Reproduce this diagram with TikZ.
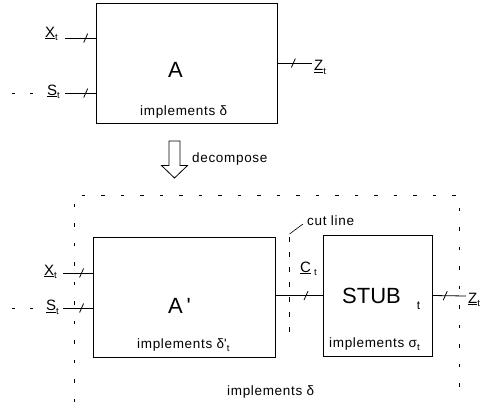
\documentclass[tikz,border=0pt]{standalone}
\usepackage{fontspec}
\setmainfont{Liberation Sans}
\newfontfamily\notefont{Liberation Sans}[LetterSpace=5]
\usetikzlibrary{calc}
\newcommand{\sigsub}[1]{\raisebox{-3.5pt}{\fontsize{9.5}{10}\selectfont #1}}
\newcommand{\sigvar}[2]{\underline{#1}\sigsub{#2}}
\tikzset{
    block/.style={rectangle,draw=black,line width=1pt,inner sep=0pt},
    wire/.style={line width=0.8pt},
    sig/.style={inner sep=0pt,font=\fontsize{15}{17}\selectfont},
    note/.style={inner sep=0pt,font=\notefont\fontsize{13.5}{15}\selectfont},
    big/.style={inner sep=0pt,font=\fontsize{22}{24}\selectfont},
    boundary/.style={line width=0.6pt,dash pattern=on 3.5pt off 16pt},
    cutline/.style={line width=0.6pt,dash pattern=on 5pt off 10pt},
    farin/.style={line width=0.8pt,dash pattern=on 3pt off 15pt},
    slash/.pic={\draw[line width=0.8pt] (-2pt,-4.5pt) -- (2pt,4.5pt);}
}
\begin{document}
\begin{tikzpicture}[x=1pt,y=-1pt]
    \useasboundingbox (0,0) rectangle (489,402);

    % upper half: the whole block A
    \node[block,minimum width=181pt,minimum height=120pt] (A) at (186.5,63) {};
    \node[big,anchor=base west]  (Aname) at (168,77)  {A};
    \node[note,anchor=base west] (Aimpl) at (140,115) {implements δ};
    \node[sig,anchor=base east]  (xt1)   at (58,37)   {\sigvar{X}{t}};
    \node[sig,anchor=base east]  (st1)   at (60,95)   {\sigvar{S}{t}};
    \node[sig,anchor=base west]  (zt1)   at (314,70.5) {\sigvar{Z}{t}};
    \coordinate (xin1)  at (65,38);
    \coordinate (sin1)  at (65,93);
    \coordinate (sfar1) at (12,93);
    \coordinate (zout1) at (312,63);

    \draw[wire] (xin1) -- pic[pos=.68]{slash} (xin1 -| A.west);
    \draw[wire] (sin1) -- pic[pos=.68]{slash} (sin1 -| A.west);
    \draw[farin] (sfar1) -- (sfar1 -| st1.west);
    \draw[wire] (A.east) -- pic[pos=.46]{slash} (zout1);

    % hollow arrow between the halves
    \draw[line width=0.8pt] (169,141) -- (180,141) -- (180,165.5) -- (187.5,165.5)
        -- (174.5,178) -- (161.5,165.5) -- (169,165.5) -- cycle;
    \node[note,anchor=base west] (decomp) at (192,162) {decompose};

    % lower half: A' plus the stub
    \node[block,minimum width=182pt,minimum height=120pt] (Ap)   at (184,297)     {};
    \node[block,minimum width=109pt,minimum height=121pt] (stub) at (377.5,295.5) {};
    \node[big,anchor=base west]  (Apname)   at (168,313) {A\,\textquotesingle};
    \node[note,anchor=base west] (Apimpl)   at (137,348) {implements δ\textquotesingle\sigsub{t}};
    \node[big,anchor=base west]  (stubname) at (342,303) {STUB\hspace{16pt}\raisebox{-6pt}{\fontsize{12}{12}\selectfont t}};
    \node[note,anchor=base west] (stubimpl) at (329,347) {implements σ\sigsub{t}};
    \node[note,anchor=base west] (allimpl)  at (227,395) {implements δ};
    \node[note,anchor=base west] (cutlbl)   at (307,225) {cut line};
    \node[sig,anchor=base east]  (xt2) at (57,275)   {\sigvar{X}{t}};
    \node[sig,anchor=base east]  (st2) at (59,310.5) {\sigvar{S}{t}};
    \node[sig,anchor=base west]  (ct)  at (300,272)  {\sigvar{C}{\hspace{3pt}t}};
    \node[sig,anchor=base west]  (zt2) at (468,303)  {\sigvar{Z}{t}};
    \coordinate (xin2)  at (63,273);
    \coordinate (sin2)  at (63,308);
    \coordinate (sfar2) at (12,308);
    \coordinate (zout2) at (466,296);
    \coordinate (bl)    at (74,402);
    \coordinate (tr)    at (459,195);
    \coordinate (cuttop)  at (289,237);
    \coordinate (cutbot)  at (289,337);
    \coordinate (cutfoot) at (289.5,234);

    \draw[boundary] (bl) |- (tr) -- (tr |- bl);
    \draw[cutline] (cuttop) -- (cutbot);
    \draw[line width=0.6pt] (cutfoot) -- ([xshift=-4pt,yshift=1pt]cutlbl.base west);

    \draw[wire] (xin2) -- pic[pos=.63]{slash} (xin2 -| Ap.west);
    \draw[wire] (sin2) -- pic[pos=.63]{slash} (sin2 -| Ap.west);
    \draw[farin] (sfar2) -- (sfar2 -| st2.west);
    \draw[wire] (Ap.east |- stub.west) -- pic[pos=.65]{slash} (stub.west);
    \draw[wire] (stub.east) -- pic[pos=.38]{slash} (zout2);
\end{tikzpicture}
\end{document}
